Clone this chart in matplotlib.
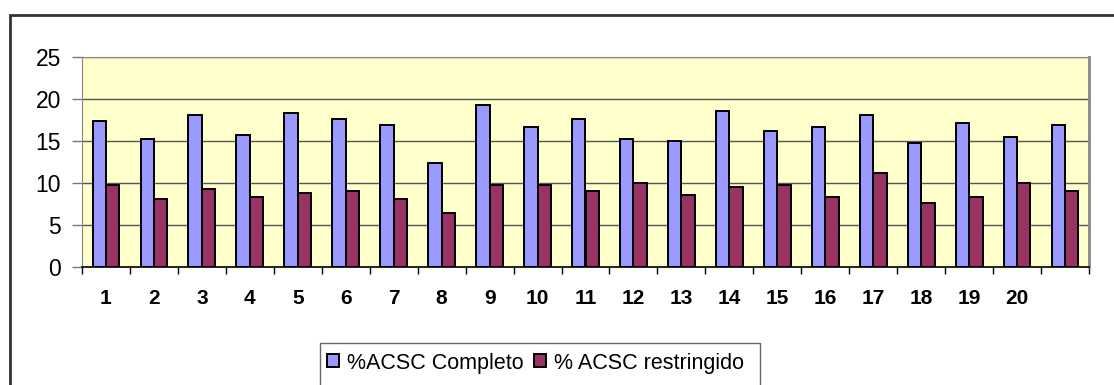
import numpy as np
import matplotlib.pyplot as plt
from matplotlib.patches import Rectangle

plt.rcParams['font.family'] = ['Liberation Sans', 'DejaVu Sans']

# porcentajes por muestra
completo = [17.4, 15.2, 18.1, 15.7, 18.3, 17.6, 16.9, 12.4, 19.3, 16.7, 17.6,
            15.2, 15.0, 18.6, 16.2, 16.7, 18.1, 14.8, 17.1, 15.5, 16.9]
restringido = [9.8, 8.1, 9.3, 8.3, 8.8, 9.0, 8.1, 6.4, 9.8, 9.8, 9.0,
               10.0, 8.6, 9.5, 9.8, 8.3, 11.2, 7.6, 8.3, 10.0, 9.0]
etiquetas = [str(i) for i in range(1, 21)] + ['']
y_ticks = [0, 5, 10, 15, 20, 25]

W, H = 1114, 385
fig = plt.figure(figsize=(W / 100, H / 100), dpi=100)

def px(x0, y0, x1, y1):
    # caja en pixeles (origen arriba a la izquierda) -> coordenadas de figura
    return [x0 / W, 1 - y1 / H, (x1 - x0) / W, (y1 - y0) / H]

ax = fig.add_axes(px(82, 57, 1089, 267))
ax.set_facecolor('#FFFFCC')

x = np.arange(len(completo))
ancho = 0.28
ax.bar(x - ancho / 2, completo, ancho, color='#9999FF', edgecolor='black',
       linewidth=1.4, label='%ACSC Completo', zorder=3)
ax.bar(x + ancho / 2, restringido, ancho, color='#993366', edgecolor='black',
       linewidth=1.4, label='% ACSC restringido', zorder=3)

ax.set_xlim(-0.5, len(completo) - 0.5)
ax.set_ylim(0, 25)
ax.set_yticks(y_ticks)
ax.yaxis.grid(True, color='#555555', linewidth=1, zorder=0)

# marcas en los limites de categoria, etiquetas en el centro
ax.set_xticks(np.arange(len(completo) + 1) - 0.5)
ax.set_xticklabels([])
ax.set_xticks(x, minor=True)
ax.set_xticklabels(etiquetas, minor=True, fontsize=15, fontweight='bold')
ax.tick_params(axis='x', which='major', direction='out', length=5, width=1, color='black')
ax.tick_params(axis='x', which='minor', length=0, pad=16)
ax.tick_params(axis='y', direction='out', length=7, width=1, color='#777777',
               labelsize=16.5, pad=8)

for lado in ['top', 'right', 'left']:
    ax.spines[lado].set_color('#888888')
ax.spines['right'].set_linewidth(2)
ax.spines['bottom'].set_color('black')
ax.spines['bottom'].set_linewidth(1.2)

# marco exterior del grafico
fig.patches.append(Rectangle((10 / W, -0.1), 1.2, 1 - 15 / H + 0.1,
                             transform=fig.transFigure, fill=False,
                             edgecolor='#333333', linewidth=2, clip_on=False))
# caja de la leyenda
fig.patches.append(Rectangle((320 / W, -0.1), (760 - 320) / W, 1 - 343 / H + 0.1,
                             transform=fig.transFigure, fill=False,
                             edgecolor='#666666', linewidth=1, clip_on=False))

fig.legend(loc='center left', bbox_to_anchor=(327 / W, 1 - 363 / H), ncol=2,
           frameon=False, fontsize=15.5, handlelength=0.55, handleheight=0.55,
           handletextpad=0.4, columnspacing=0.45, borderaxespad=0, borderpad=0)

fig.savefig('out.png', dpi=100)
